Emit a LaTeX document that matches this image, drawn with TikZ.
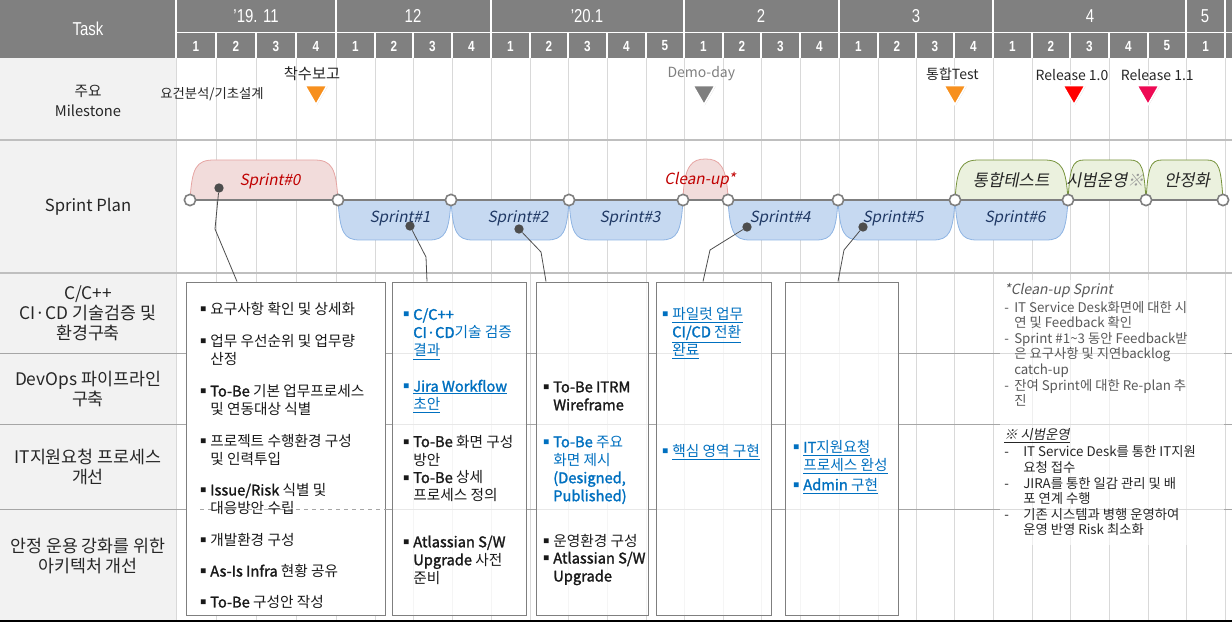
\documentclass[tikz,border=0pt]{standalone}
\usepackage{fontspec}
\setmainfont{Noto Sans CJK KR}[AutoFakeSlant=0.2, BoldFont={Noto Sans CJK KR}, BoldFeatures={FakeBold=1.6}]
\newfontfamily\hdrfont{Liberation Sans}[FakeStretch=0.8]
\usepackage{xcolor}
\usepackage{tikz}
\usetikzlibrary{positioning,fit,shapes.geometric,shadows}

\definecolor{hdrgray}{HTML}{808080}
\definecolor{leftgray}{HTML}{F2F2F2}
\definecolor{gridgray}{HTML}{D9D9D9}
\definecolor{sepgray}{HTML}{BFBFBF}
\definecolor{rowgray}{HTML}{A6A6A6}
\definecolor{linegray}{HTML}{7F7F7F}
\definecolor{dotgray}{HTML}{4D4D4D}
\definecolor{redfill}{HTML}{F2DCDB}
\definecolor{redline}{HTML}{E6A5A3}
\definecolor{redtext}{HTML}{C00000}
\definecolor{bluefill}{HTML}{C6D9F1}
\definecolor{blueline}{HTML}{8EB4E3}
\definecolor{navytext}{HTML}{1F3864}
\definecolor{greenfill}{HTML}{EBF1DE}
\definecolor{greenline}{HTML}{77933C}
\definecolor{linkblue}{HTML}{0070C0}
\definecolor{notegray}{HTML}{595959}
\definecolor{mileorange}{HTML}{F7901E}
\definecolor{milered}{HTML}{FF0000}
\definecolor{milepink}{HTML}{EE0A54}

\newcommand{\sqbul}{\makebox[7.5pt][l]{\raisebox{2.2pt}{\fontsize{4.5}{5}\selectfont■}}}
\newcommand{\subln}{\hspace*{7.5pt}}
\newcommand{\notedash}[1]{\makebox[#1][l]{-}}
\newcommand{\sprintshape}[5]{%
  \path[#1] (#2,200) .. controls (#2+2,0.2*200+0.8*#4) and (#2+#5/4,#4) .. (#2+#5,#4)
    -- (#3-#5,#4) .. controls (#3-#5/4,#4) and (#3-2,0.2*200+0.8*#4) .. (#3,200) -- cycle;}

\begin{document}
\begin{tikzpicture}[x=0.75pt, y=-0.75pt,
  grid/.style={draw=gridgray, line width=0.75pt},
  rowline/.style={draw=rowgray, line width=0.75pt},
  hdr/.style={text=white, font=\hdrfont\fontsize{14}{15}\selectfont},
  wk/.style={text=white, font=\hdrfont\bfseries\fontsize{11}{11}\selectfont},
  lbl/.style={align=center, text=black!85, font=\fontsize{13}{15}\selectfont},
  mile/.style={regular polygon, regular polygon sides=3, shape border rotate=180,
    minimum size=19pt, inner sep=0pt, draw=white, line width=1.2pt,
    drop shadow={opacity=0.35, shadow xshift=0.5pt, shadow yshift=-0.6pt}},
  mtext/.style={inner sep=0pt, text=black!85, font=\fontsize{10.5}{12}\selectfont},
  knot/.style={circle, draw=linegray, line width=1.2pt, fill=white, minimum size=8.5pt, inner sep=0pt},
  dot/.style={circle, fill=dotgray, minimum size=7pt, inner sep=0pt},
  link/.style={draw=dotgray, line width=0.6pt},
  taskbox/.style={draw=linegray, line width=0.75pt, inner sep=0pt, fill=white, fill opacity=0.75},
  item/.style={anchor=west, align=left, inner sep=0pt, text=black!90, font=\fontsize{11}{13.5}\selectfont},
  sred/.style={fill=redfill, draw=redline, line width=0.6pt},
  sblue/.style={fill=bluefill, draw=blueline, line width=0.6pt},
  sgreen/.style={fill=greenfill, draw=greenline, line width=0.6pt},
  stext/.style={inner sep=0pt, font=\itshape\fontsize{11.5}{12}\selectfont}]

\useasboundingbox (0,0) rectangle (1232,624);

\fill[hdrgray] (0,0) rectangle (1232,58);
\fill[leftgray] (0,58) rectangle (176,621);

\draw[grid] (176,58) -- (176,621);
\foreach \x/\n [remember=\x as \lastx (initially 176)] in
  {216/1,256/2,296/3,336/4,375/1,413/2,452/3,491/4,530/1,568/2,607/3,646/4,684/5,
   723/1,761/2,800/3,839/4,878/1,916/2,954/3,993/4,1032/1,1070/2,1109/3,1148/4,1186/5,1225/1}
{
  \draw[grid] (\x,58) -- (\x,621);
  \draw[white, line width=1pt] (\x,33) -- (\x,58);
  \node (w\x) [wk] at ({(\x+\lastx)/2},46) {\n};
}
\foreach \x in {176,336,491,684,839,993,1186,1225}
  \draw[white, line width=1pt] (\x,0) -- (\x,58);
\draw[white, line width=1pt] (176,32.5) -- (1232,32.5);

\node (task) [hdr] at (88,29) {Task};
\node (mon11) [hdr] at (256,16) {’19. 11};
\node (mon12) [hdr] at (413,16) {12};
\node (mon1) [hdr] at (587,16) {’20.1};
\node (mon2) [hdr] at (761,16) {2};
\node (mon3) [hdr] at (916,16) {3};
\node (mon4) [hdr] at (1090,16) {4};
\node (mon5) [hdr] at (1205,16) {5};

\draw[draw=sepgray, line width=2.2pt] (0,140) -- (1232,140);
\draw[draw=sepgray, line width=1.5pt] (0,273) -- (1232,273);
\draw[rowline] (0,353) -- (1232,353);
\draw[rowline] (0,424) -- (1232,424);
\draw[rowline] (0,509) -- (1232,509);
\draw[black, line width=1.5pt] (0,621) -- (1232,621);

\node (mile) [lbl, font=\fontsize{11}{15}\selectfont] at (88,101) {주요\\Milestone};
\node (plan) [lbl, font=\fontsize{12.5}{15}\selectfont] at (88,207) {Sprint Plan};
\node (row1) [lbl] at (88,313) {C/C++\\CI·CD 기술검증 및\\환경구축};
\node (row2) [lbl] at (88,389) {DevOps 파이프라인\\구축};
\node (row3) [lbl] at (88,467) {IT지원요청 프로세스\\개선};
\node (row4) [lbl] at (88,556) {안정 운용 강화를 위한\\아키텍처 개선};

\sprintshape{sred}{190}{338}{160}{24}
\path[sred] (683,200) .. controls (684,165) and (692,159) .. (705.5,159)
  .. controls (719,159) and (727,165) .. (728,200) -- cycle;
\sprintshape{sgreen}{955}{1068}{160}{24}
\sprintshape{sgreen}{1068}{1146}{160}{16}
\sprintshape{sgreen}{1146}{1223}{160}{16}
\sprintshape{sblue}{338}{451}{240}{22}
\sprintshape{sblue}{451}{569}{240}{22}
\sprintshape{sblue}{569}{683}{240}{22}
\sprintshape{sblue}{728}{838}{240}{22}
\sprintshape{sblue}{838}{955}{240}{22}
\sprintshape{sblue}{955}{1068}{240}{22}

\coordinate (s0) at (190,200);
\coordinate (s1) at (1223,200);
\draw[draw=linegray, line width=2.2pt] (s0) -- (s1);
\foreach \x in {190,338,451,569,683,728,838,955,1068,1146,1223}
  \node (k\x) [knot] at (\x,200) {};

\node (sp0) [stext, text=redtext] at (270,181) {Sprint\#0};
\node (clean) [stext, text=redtext] at (700,180) {Clean-up*};
\node (sp1) [stext, text=navytext] at (400,218) {Sprint\#1};
\node (sp2) [stext, text=navytext] at (518,218) {Sprint\#2};
\node (sp3) [stext, text=navytext] at (630,218) {Sprint\#3};
\node (sp4) [stext, text=navytext] at (780,218) {Sprint\#4};
\node (sp5) [stext, text=navytext] at (893,218) {Sprint\#5};
\node (sp6) [stext, text=navytext] at (1015,218) {Sprint\#6};
\node (itest) [stext, text=black!85, font=\itshape\fontsize{12.5}{13}\selectfont] at (1011,180) {통합테스트};
\node (pilot) [stext, text=black!85, font=\itshape\fontsize{12.5}{13}\selectfont] at (1105,180) {시범운영{\color{black!40}※}};
\node (stable) [stext, text=black!85, font=\itshape\fontsize{12.5}{13}\selectfont] at (1187,180) {안정화};

\node (b1) [taskbox, fill opacity=1, fit={(186,282) (385,615)}] {};
\node (b2) [taskbox, fit={(392,282) (526,615)}] {};
\node (b3) [taskbox, fit={(536,282) (648,615)}] {};
\node (b4) [taskbox, fit={(656,282) (771,615)}] {};
\node (b5) [taskbox, fit={(785,282) (898,615)}] {};
\draw[rowline, dashed] (200,509) -- (b1.east |- 0,509);

\begin{scope}[every node/.append style={font=\fontsize{11.5}{13.5}\selectfont}]
\node (i11) [item] at (200,309) {\sqbul 요구사항 확인 및 상세화};
\node (i12) [item] at (200,350) {\sqbul 업무 우선순위 및 업무량\\\subln 산정};
\node (i13) [item] at (200,400) {\sqbul \textbf{To-Be} 기본 업무프로세스\\\subln 및 연동대상 식별};
\node (i14) [item] at (200,449.5) {\sqbul 프로젝트 수행환경 구성\\\subln 및 인력투입};
\node (i15) [item] at (200,499) {\sqbul \textbf{Issue/Risk} 식별 및\\\subln 대응방안 수립};
\node (i16) [item] at (200,540) {\sqbul 개발환경 구성};
\node (i17) [item] at (200,571) {\sqbul \textbf{As-Is Infra} 현황 공유};
\node (i18) [item] at (200,602) {\sqbul \textbf{To-Be} 구성안 작성};
\end{scope}

\node (i21) [item, text=linkblue] at (403,334) {\sqbul \textbf{C/C++}\\\subln \textbf{CI·CD}기술 검증\\\subln \underline{결과}};
\node (i22) [item, text=linkblue] at (403,396.5) {\sqbul \underline{\textbf{Jira Workflow}}\\\subln \underline{초안}};
\node (i23) [item] at (403,450.5) {\sqbul \textbf{To-Be} 화면 구성\\\subln 방안};
\node (i24) [item] at (403,486.5) {\sqbul \textbf{To-Be} 상세\\\subln 프로세스 정의};
\node (i25) [item] at (403,560) {\sqbul \textbf{Atlassian S/W}\\\subln \textbf{Upgrade} 사전\\\subln 준비};

\node (i31) [item] at (543,396) {\sqbul \textbf{To-Be ITRM}\\\subln \textbf{Wireframe}};
\node (i32) [item, text=linkblue] at (543,470) {\sqbul \textbf{To-Be} 주요\\\subln 화면 제시\\\subln \textbf{(Designed,}\\\subln \textbf{Published)}};
\node (i33) [item] at (543,541) {\sqbul 운영환경 구성};
\node (i34) [item] at (543,568.5) {\sqbul \textbf{Atlassian S/W}\\\subln \textbf{Upgrade}};

\node (i41) [item, text=linkblue] at (662,333) {\sqbul \underline{파일럿 업무}\\\subln \underline{\textbf{CI/CD} 전환}\\\subln \underline{완료}};
\node (i42) [item, text=linkblue] at (662,452) {\sqbul \underline{핵심 영역 구현}};
\node (i51) [item, text=linkblue] at (793,457.5) {\sqbul \underline{\textbf{IT}지원요청}\\\subln \underline{프로세스 완성}};
\node (i52) [item, text=linkblue] at (793,486) {\sqbul \underline{\textbf{Admin} 구현}};

\node (d0) [dot] at (219,188) {};
\node (d1) [dot] at (410,226) {};
\node (d2) [dot] at (519,229) {};
\node (d4) [dot] at (747,227) {};
\node (d5) [dot] at (863,227) {};
\draw[link] (d0) -- (215,229) -- (237,0 |- b1.north);
\draw[link] (d1) -- (426,257) -- (427,0 |- b2.north);
\draw[link] (d2) -- (541,252) -- (546,0 |- b3.north);
\draw[link] (d4) -- (710,250) -- (703,0 |- b4.north);
\draw[link] (d5) -- (844,250) -- (838,0 |- b5.north);

\node (notebg) [inner sep=0pt, fill=white, fill opacity=0.6, fit={(1000,280) (1224,545)}] {};
\node (note1) [anchor=north west, align=left, inner sep=0pt, text=notegray,
  font=\fontsize{10}{11.7}\selectfont] at (1004,283)
  {{\itshape\fontsize{10.5}{12}\selectfont *Clean-up Sprint}\\[1.5pt]
   \notedash{7.5pt}IT Service Desk화면에 대한 시\\
   \subln 연 및 Feedback 확인\\
   \notedash{7.5pt}Sprint \#1\textasciitilde3 동안 Feedback받\\
   \subln 은 요구사항 및 지연backlog\\
   \subln catch-up\\
   \notedash{7.5pt}잔여 Sprint에 대한 Re-plan 추\\
   \subln 진};
\node (note2) [anchor=north west, align=left, inner sep=0pt, text=black!85,
  font=\fontsize{10}{11.7}\selectfont] at (1004,428)
  {\underline{\itshape ※ 시범운영}\\[1.5pt]
   \notedash{14.25pt}IT Service Desk를 통한 IT지원\\
   \hspace*{14.25pt}요청 접수\\
   \notedash{14.25pt}JIRA를 통한 일감 관리 및 배\\
   \hspace*{14.25pt}포 연계 수행\\
   \notedash{14.25pt}기존 시스템과 병행 운영하여\\
   \hspace*{14.25pt}운영 반영 Risk 최소화};

\node (m0t) [mtext, font=\fontsize{10}{11}\selectfont] at (212,94) {요건분석/기초설계};
\node (m1) [mile, fill=mileorange] at (316,92) {};
\node (m1t) [mtext, font=\fontsize{11.5}{12}\selectfont, above=3pt of m1, xshift=-3pt] {착수보고};
\node (m2) [mile, fill=linegray] at (704,92) {};
\node (m2t) [mtext, text=linegray, above=3pt of m2, xshift=-2pt] {Demo-day};
\node (m3) [mile, fill=mileorange] at (955,92) {};
\node (m3t) [mtext, above=3pt of m3, xshift=-2pt] {통합Test};
\node (m4) [mile, fill=milered] at (1074,92) {};
\node (m4t) [mtext, above=3pt of m4, xshift=-1.5pt] {Release 1.0};
\node (m5) [mile, fill=milepink] at (1148,92) {};
\node (m5t) [mtext, above=3pt of m5, xshift=7pt] {Release 1.1};
\end{tikzpicture}
\end{document}
